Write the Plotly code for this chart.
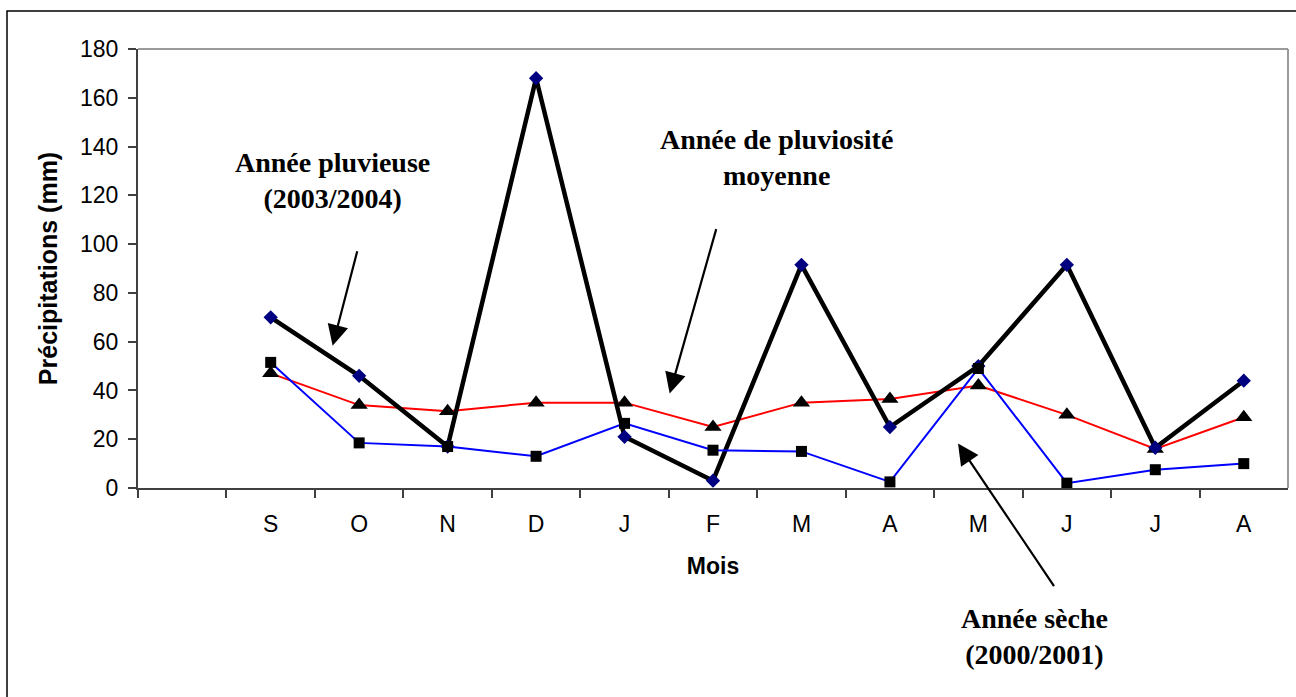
import plotly.graph_objects as go

# ---- data ----
months = ["S", "O", "N", "D", "J", "F", "M", "A", "M", "J", "J", "A"]
pluvieuse_2003_2004 = [70, 46, 17, 168, 21, 3, 91.5, 25, 50, 91.5, 16.5, 44]
moyenne = [47, 34, 31.5, 35, 35, 25, 35, 36.5, 42, 30, 16, 29]
seche_2000_2001 = [51.5, 18.5, 17, 13, 26.5, 15.5, 15, 2.5, 49, 2, 7.5, 10]

# first category slot is empty (as in the original chart)
x_pos = list(range(1, len(months) + 1))
tick_vals = list(range(0, len(months) + 1))
tick_text = [""] + months

SANS = "Liberation Sans, Arial, sans-serif"
SERIF = "Liberation Serif, Times New Roman, serif"

fig = go.Figure()

fig.add_trace(go.Scatter(
    x=x_pos, y=moyenne, mode="lines+markers", name="Année de pluviosité moyenne",
    line=dict(color="#FF0000", width=2),
    marker=dict(symbol="triangle-up", size=15, color="#000000"),
))
fig.add_trace(go.Scatter(
    x=x_pos, y=pluvieuse_2003_2004, mode="lines+markers", name="Année pluvieuse (2003/2004)",
    line=dict(color="#000000", width=4.5),
    marker=dict(symbol="diamond", size=11, color="#000080"),
))
fig.add_trace(go.Scatter(
    x=x_pos, y=seche_2000_2001, mode="lines+markers", name="Année sèche (2000/2001)",
    line=dict(color="#0000FF", width=2),
    marker=dict(symbol="square", size=11, color="#000000"),
))

L, R, T, B = 138, 8, 49, 209
W, H = 1296, 697
pw, ph = W - L - R, H - T - B

def px(xp):
    return (xp - L) / pw

def py(yp):
    return (H - B - yp) / ph

fig.update_layout(
    width=W, height=H,
    margin=dict(l=L, r=R, t=T, b=B),
    paper_bgcolor="white", plot_bgcolor="white",
    showlegend=False,
    font=dict(family=SANS, color="#000000"),
)

fig.update_xaxes(
    range=[-0.5, len(months) + 0.5],
    tickmode="array", tickvals=tick_vals, ticktext=tick_text,
    ticks="", ticklabelstandoff=14,
    tickfont=dict(family=SANS, size=23, color="#000000"),
    minor=dict(tickmode="array", tickvals=[v + 0.5 for v in tick_vals[:-1]] + [-0.5],
               ticks="outside", ticklen=8, tickwidth=1.5, tickcolor="#404040"),
    showline=True, linecolor="#404040", linewidth=2,
    showgrid=False, zeroline=False,
    title=dict(text="<b>Mois</b>", font=dict(family=SANS, size=23, color="#000000"), standoff=22),
)
fig.update_yaxes(
    range=[0, 180], tickmode="linear", tick0=0, dtick=20,
    ticks="outside", ticklen=8, tickwidth=1.5, tickcolor="#404040",
    ticklabelstandoff=5,
    tickfont=dict(family=SANS, size=23, color="#000000"),
    showline=True, linecolor="#404040", linewidth=2,
    showgrid=False, zeroline=False,
    title=dict(text="<b>Précipitations (mm)</b>", font=dict(family=SANS, size=25, color="#000000"), standoff=15),
)

# plot area border (top and right, grey)
fig.add_shape(type="line", xref="paper", yref="paper", x0=0, x1=1, y0=1, y1=1,
              line=dict(color="#9a9a9a", width=2))
fig.add_shape(type="line", xref="paper", yref="paper", x0=1, x1=1, y0=0, y1=1,
              line=dict(color="#9a9a9a", width=2))
# outer chart frame (right and bottom edges run off the picture)
fig.add_shape(type="rect", xref="paper", yref="paper",
              x0=px(7), x1=px(1300), y0=py(705), y1=py(11),
              line=dict(color="#000000", width=1.5), fillcolor="rgba(0,0,0,0)")

# text labels
fig.add_annotation(xref="paper", yref="paper", x=px(332), y=py(180),
                   text="<b>Année pluvieuse<br>(2003/2004)</b>", showarrow=False,
                   font=dict(family=SERIF, size=28, color="#000000"),
                   xanchor="center", yanchor="middle", align="center")
fig.add_annotation(xref="paper", yref="paper", x=px(776), y=py(157),
                   text="<b>Année de pluviosité<br>moyenne</b>", showarrow=False,
                   font=dict(family=SERIF, size=28, color="#000000"),
                   xanchor="center", yanchor="middle", align="center")
fig.add_annotation(xref="paper", yref="paper", x=px(1034), y=py(636),
                   text="<b>Année sèche<br>(2000/2001)</b>", showarrow=False,
                   font=dict(family=SERIF, size=28, color="#000000"),
                   xanchor="center", yanchor="middle", align="center")

# arrows (tip in data coordinates, tail offset in pixels)
arrows = [
    (1.70, 58.3, 25, -96),
    (5.51, 38.7, 47, -166),
    (8.77, 18.2, 97, 144),
]
for ax_, ay_, dx, dy in arrows:
    fig.add_annotation(x=ax_, y=ay_, xref="x", yref="y", text="",
                       showarrow=True, arrowhead=2, arrowsize=1.9, arrowwidth=2.2,
                       arrowcolor="#000000", ax=dx, ay=dy, standoff=0)

fig.write_html("out.html", config={"displayModeBar": False},
               post_script="document.body.style.margin='0';document.body.style.overflow='hidden';")
